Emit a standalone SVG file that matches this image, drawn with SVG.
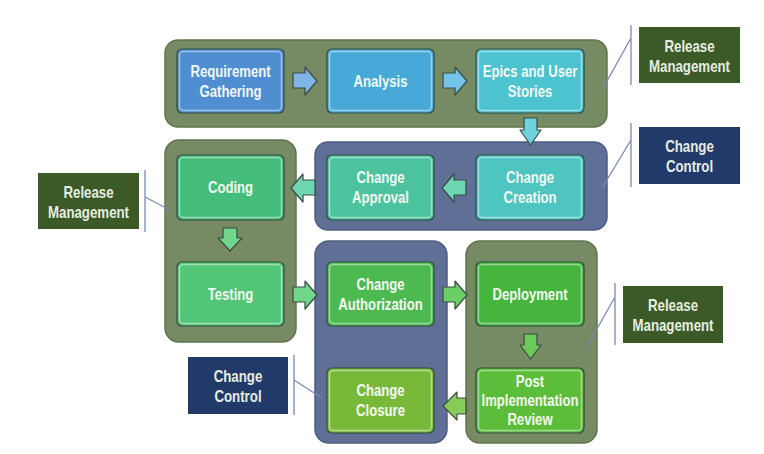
<svg xmlns="http://www.w3.org/2000/svg" width="764" height="454" viewBox="0 0 764 454">
<style>
.olive{fill:#768a63;stroke:#62744f;stroke-width:1.5}
.blue{fill:#5f6f96;stroke:#4e5d82;stroke-width:1.5}
.node{stroke:#2f4a3c;stroke-width:1.2}
.hl{fill:none;stroke:#ffffff;stroke-opacity:0.45;stroke-width:1.5}
.t{font-family:"Liberation Sans",Arial,sans-serif;font-weight:bold;font-size:16px;fill:#f4f8f2;text-anchor:middle}
.lbl{font-family:"Liberation Sans",Arial,sans-serif;font-weight:bold;font-size:16px;fill:#e6ede0;text-anchor:middle}
.rm{fill:#3b5a27}
.cc{fill:#213a6a}
.lead{stroke:#7b88b6;stroke-width:1.3;fill:none}
.arr{stroke:#3b4a44;stroke-width:1.2;stroke-linejoin:round}
</style>
<rect width="764" height="454" fill="#ffffff"/>
<g id="containers">
<rect class="olive" x="165" y="40" width="442" height="87" rx="13"/>
<rect class="blue" x="315" y="142" width="292" height="88" rx="13"/>
<rect class="olive" x="165" y="140" width="131" height="202" rx="14"/>
<rect class="blue" x="315" y="241" width="132" height="202" rx="14"/>
<rect class="olive" x="466" y="241" width="131" height="202" rx="14"/>
</g>
<g id="connectors">
<path class="lead" d="M631 25V85M631 38L602 90"/>
<path class="lead" d="M631 123V187M631 140L602 188"/>
<path class="lead" d="M145 170V232M145 197L170 210"/>
<path class="lead" d="M615 283V345M615 297L585 350"/>
<path class="lead" d="M294 355V415M294 380L322 398"/>
<path class="arr" fill="#7fb4e6" d="M293 73H305V67L317 81L305 95V88H293Z"/>
<path class="arr" fill="#74c4ea" d="M443 73H455V67L467 81L455 95V88H443Z"/>
<path class="arr" fill="#6fd3dd" d="M524 118H537V130H541L530.5 145L520 130H524Z"/>
<path class="arr" fill="#6fd6b4" d="M466 180H454V174L442 188L454 202V195H466Z"/>
<path class="arr" fill="#6fd6b4" d="M315 180H303V174L291 188L303 202V195H315Z"/>
<path class="arr" fill="#6fd68c" d="M223 228H237V238H242L230 251L218 238H223Z"/>
<path class="arr" fill="#6fd68a" d="M293 287H305V281L317 295L305 309V302H293Z"/>
<path class="arr" fill="#6ccf66" d="M443 287H455V281L467 295L455 309V302H443Z"/>
<path class="arr" fill="#6cc95a" d="M524 334H537V345H541L530.5 359L520 345H524Z"/>
<path class="arr" fill="#86cc58" d="M466 398H457V392L443 406L457 420V414H466Z"/>
</g>
<g id="n-requirement">
<rect class="node" x="177" y="49" width="107" height="64" rx="5" fill="#4f8fd1"/>
<rect class="hl" x="179.5" y="51.5" width="102" height="59" rx="4"/>
<g transform="translate(230.5 0) scale(0.82 1)"><text class="t" x="0" y="77">Requirement</text><text class="t" x="0" y="97">Gathering</text></g>
</g>
<g id="n-analysis">
<rect class="node" x="327" y="49" width="107" height="64" rx="5" fill="#48a9d9"/>
<rect class="hl" x="329.5" y="51.5" width="102" height="59" rx="4"/>
<g transform="translate(380.5 0) scale(0.82 1)"><text class="t" x="0" y="87">Analysis</text></g>
</g>
<g id="n-epics">
<rect class="node" x="476" y="49" width="108" height="64" rx="5" fill="#4cc3cf"/>
<rect class="hl" x="478.5" y="51.5" width="103" height="59" rx="4"/>
<g transform="translate(530 0) scale(0.82 1)"><text class="t" x="0" y="77">Epics and User</text><text class="t" x="0" y="97">Stories</text></g>
</g>
<g id="n-creation">
<rect class="node" x="476" y="155" width="108" height="65" rx="5" fill="#4ec5c0"/>
<rect class="hl" x="478.5" y="157.5" width="103" height="60" rx="4"/>
<g transform="translate(530 0) scale(0.82 1)"><text class="t" x="0" y="183">Change</text><text class="t" x="0" y="203">Creation</text></g>
</g>
<g id="n-approval">
<rect class="node" x="327" y="155" width="107" height="65" rx="5" fill="#4cc39e"/>
<rect class="hl" x="329.5" y="157.5" width="102" height="60" rx="4"/>
<g transform="translate(380.5 0) scale(0.82 1)"><text class="t" x="0" y="183">Change</text><text class="t" x="0" y="203">Approval</text></g>
</g>
<g id="n-coding">
<rect class="node" x="177" y="155" width="107" height="65" rx="5" fill="#44bd7a"/>
<rect class="hl" x="179.5" y="157.5" width="102" height="60" rx="4"/>
<g transform="translate(230.5 0) scale(0.82 1)"><text class="t" x="0" y="193">Coding</text></g>
</g>
<g id="n-testing">
<rect class="node" x="177" y="262" width="107" height="64" rx="5" fill="#52c576"/>
<rect class="hl" x="179.5" y="264.5" width="102" height="59" rx="4"/>
<g transform="translate(230.5 0) scale(0.82 1)"><text class="t" x="0" y="300">Testing</text></g>
</g>
<g id="n-authorization">
<rect class="node" x="327" y="262" width="107" height="64" rx="5" fill="#4cba50"/>
<rect class="hl" x="329.5" y="264.5" width="102" height="59" rx="4"/>
<g transform="translate(380.5 0) scale(0.82 1)"><text class="t" x="0" y="290">Change</text><text class="t" x="0" y="310">Authorization</text></g>
</g>
<g id="n-deployment">
<rect class="node" x="476" y="262" width="108" height="64" rx="5" fill="#45b53e"/>
<rect class="hl" x="478.5" y="264.5" width="103" height="59" rx="4"/>
<g transform="translate(530 0) scale(0.82 1)"><text class="t" x="0" y="300">Deployment</text></g>
</g>
<g id="n-pir">
<rect class="node" x="476" y="368" width="108" height="65" rx="5" fill="#5bbd3a"/>
<rect class="hl" x="478.5" y="370.5" width="103" height="60" rx="4"/>
<g transform="translate(530 0) scale(0.82 1)"><text class="t" x="0" y="387">Post</text><text class="t" x="0" y="406">Implementation</text><text class="t" x="0" y="425">Review</text></g>
</g>
<g id="n-closure">
<rect class="node" x="327" y="368" width="107" height="65" rx="5" fill="#78b93a"/>
<rect class="hl" x="329.5" y="370.5" width="102" height="60" rx="4"/>
<g transform="translate(380.5 0) scale(0.82 1)"><text class="t" x="0" y="396">Change</text><text class="t" x="0" y="416">Closure</text></g>
</g>
<g id="l-rm-top">
<rect class="rm" x="639" y="27" width="101" height="56"/>
<g transform="translate(689.5 0) scale(0.83 1)"><text class="lbl" x="0" y="52">Release</text><text class="lbl" x="0" y="72">Management</text></g>
</g>
<g id="l-cc-top">
<rect class="cc" x="639" y="127" width="101" height="57"/>
<g transform="translate(689.5 0) scale(0.83 1)"><text class="lbl" x="0" y="152">Change</text><text class="lbl" x="0" y="172">Control</text></g>
</g>
<g id="l-rm-left">
<rect class="rm" x="38" y="173" width="101" height="56"/>
<g transform="translate(88.5 0) scale(0.83 1)"><text class="lbl" x="0" y="198">Release</text><text class="lbl" x="0" y="218">Management</text></g>
</g>
<g id="l-rm-right">
<rect class="rm" x="623" y="286" width="100" height="57"/>
<g transform="translate(673 0) scale(0.83 1)"><text class="lbl" x="0" y="311">Release</text><text class="lbl" x="0" y="331">Management</text></g>
</g>
<g id="l-cc-left">
<rect class="cc" x="188" y="357" width="100" height="57"/>
<g transform="translate(238 0) scale(0.83 1)"><text class="lbl" x="0" y="382">Change</text><text class="lbl" x="0" y="402">Control</text></g>
</g>
</svg>
